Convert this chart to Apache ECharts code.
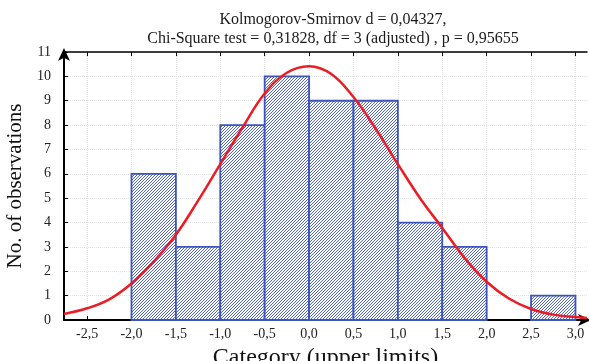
<!doctype html>
<html>
<head>
<meta charset="utf-8">
<title>histogram</title>
<style>
    html, body { margin: 0; padding: 0; background: #fff; }
    #main { width: 589px; height: 361px; }
</style>
</head>
<body>
<div id="main"></div>
<script src="https://cdn.jsdelivr.net/npm/echarts@6/dist/echarts.min.js"></script>
<script>
// histogram bins (lower / upper limit) and counts
var binLower = [-2.0, -1.5, -1.0, -0.5, 0.0, 0.5, 1.0, 1.5, 2.0, 2.5];
var binUpper = [-1.5, -1.0, -0.5, 0.0, 0.5, 1.0, 1.5, 2.0, 2.5, 3.0];
var counts   = [6, 3, 8, 10, 9, 9, 4, 3, 0, 1];

// fitted normal curve
var curveX = [-2.76, -2.5, -2.25, -2.0, -1.75, -1.5, -1.25, -1.0, -0.75, -0.5, -0.25, 0.0,
              0.25, 0.5, 0.75, 1.0, 1.25, 1.5, 1.75, 2.0, 2.25, 2.5, 2.75, 3.0, 3.13];
var curveY = [0.25, 0.48, 0.85, 1.5, 2.4, 3.5, 4.9, 6.4, 7.9, 9.3, 10.15, 10.42,
              10.1, 9.15, 7.85, 6.4, 5.0, 3.78, 2.55, 1.57, 0.88, 0.45, 0.22, 0.12, 0.08];

var xTicks = [-2.5, -2.0, -1.5, -1.0, -0.5, 0.0, 0.5, 1.0, 1.5, 2.0, 2.5, 3.0];
var titleText = 'Kolmogorov-Smirnov d = 0,04327,\nChi-Square test = 0,31828, df = 3 (adjusted) , p = 0,95655';

var serif = '"Liberation Serif", "DejaVu Serif", serif';

// diagonal hatch used to fill the bars
var hatch = document.createElement('canvas');
hatch.width = 3;
hatch.height = 3;
var hc = hatch.getContext('2d');
hc.fillStyle = '#ffffff';
hc.fillRect(0, 0, 3, 3);
hc.strokeStyle = '#3a54c4';
hc.lineWidth = 0.9;
hc.beginPath();
hc.moveTo(-1, 4); hc.lineTo(4, -1);
hc.moveTo(-1, 1); hc.lineTo(1, -1);
hc.moveTo(2, 4); hc.lineTo(4, 2);
hc.stroke();

var bars = [];
for (var i = 0; i < counts.length; i++) {
    bars.push([binLower[i], binUpper[i], counts[i]]);
}
var curve = [];
for (var j = 0; j < curveX.length; j++) {
    curve.push([curveX[j], curveY[j]]);
}

function fmt(v) {
    return v.toFixed(1).replace('.', ',');
}

var myChart = echarts.init(document.getElementById('main'));

var option = {
    animation: false,
    title: {
        text: titleText,
        left: 328,
        top: 5,
        textAlign: 'center',
        textStyle: {
            fontFamily: serif,
            fontSize: 16,
            fontWeight: 'normal',
            color: '#1a1a1a',
            lineHeight: 19
        }
    },
    grid: { left: 64, right: 2, top: 52, bottom: 41, outerBoundsMode: 'none', containLabel: false },
    xAxis: [{
        type: 'value',
        min: -2.76,
        max: 3.13,
        position: 'bottom',
        name: 'Category (upper limits)',
        nameLocation: 'middle',
        nameGap: 18,
        nameTextStyle: { fontFamily: serif, fontSize: 24, color: '#111' },
        axisLine: { show: true, onZero: false, lineStyle: { color: '#000', width: 2 },
                    symbol: ['none', 'arrow'], symbolSize: [9, 13], symbolOffset: [0, 4] },
        axisTick: { show: true, inside: true, length: 4, customValues: xTicks,
                    lineStyle: { color: '#000', width: 1 } },
        axisLabel: { customValues: xTicks, formatter: fmt, margin: 7,
                     fontFamily: serif, fontSize: 14, color: '#222' },
        splitLine: { show: true, customValues: xTicks,
                     lineStyle: { color: '#e2e2e2', type: 'dotted', width: 1 } }
    }, {
        type: 'value',
        min: -2.76,
        max: 3.13,
        position: 'top',
        axisLine: { show: true, onZero: false, lineStyle: { color: '#000', width: 1.5 } },
        axisTick: { show: true, inside: true, length: 4, customValues: xTicks,
                    lineStyle: { color: '#000', width: 1 } },
        axisLabel: { show: false },
        splitLine: { show: false }
    }],
    yAxis: {
        type: 'value',
        min: 0,
        max: 11,
        interval: 1,
        name: 'No. of observations',
        nameLocation: 'middle',
        nameGap: 28,
        nameTextStyle: { fontFamily: serif, fontSize: 21, color: '#111' },
        axisLine: { show: true, onZero: false, lineStyle: { color: '#000', width: 2 },
                    symbol: ['none', 'arrow'], symbolSize: [9, 13], symbolOffset: [0, 4] },
        axisTick: { show: true, inside: true, length: 4, lineStyle: { color: '#000' } },
        axisLabel: { margin: 13, fontFamily: serif, fontSize: 14, color: '#222' },
        splitLine: { show: true, lineStyle: { color: '#e2e2e2', type: 'dotted', width: 1 } }
    },
    series: [{
        type: 'custom',
        xAxisIndex: 0,
        encode: { x: [0, 1], y: 2 },
        data: bars,
        z: 2,
        renderItem: function (params, api) {
            if (api.value(2) <= 0) return null;
            var p0 = api.coord([api.value(0), api.value(2)]);
            var p1 = api.coord([api.value(1), 0]);
            return {
                type: 'rect',
                shape: { x: p0[0], y: p0[1], width: p1[0] - p0[0], height: p1[1] - p0[1] },
                style: { fill: { image: hatch, repeat: 'repeat' }, stroke: '#3d55b8', lineWidth: 1.8 }
            };
        }
    }, {
        type: 'line',
        xAxisIndex: 0,
        data: curve,
        smooth: 0.4,
        showSymbol: false,
        z: 5,
        lineStyle: { color: '#ec1c24', width: 2.5 }
    }]
};

myChart.setOption(option);
</script>
</body>
</html>
